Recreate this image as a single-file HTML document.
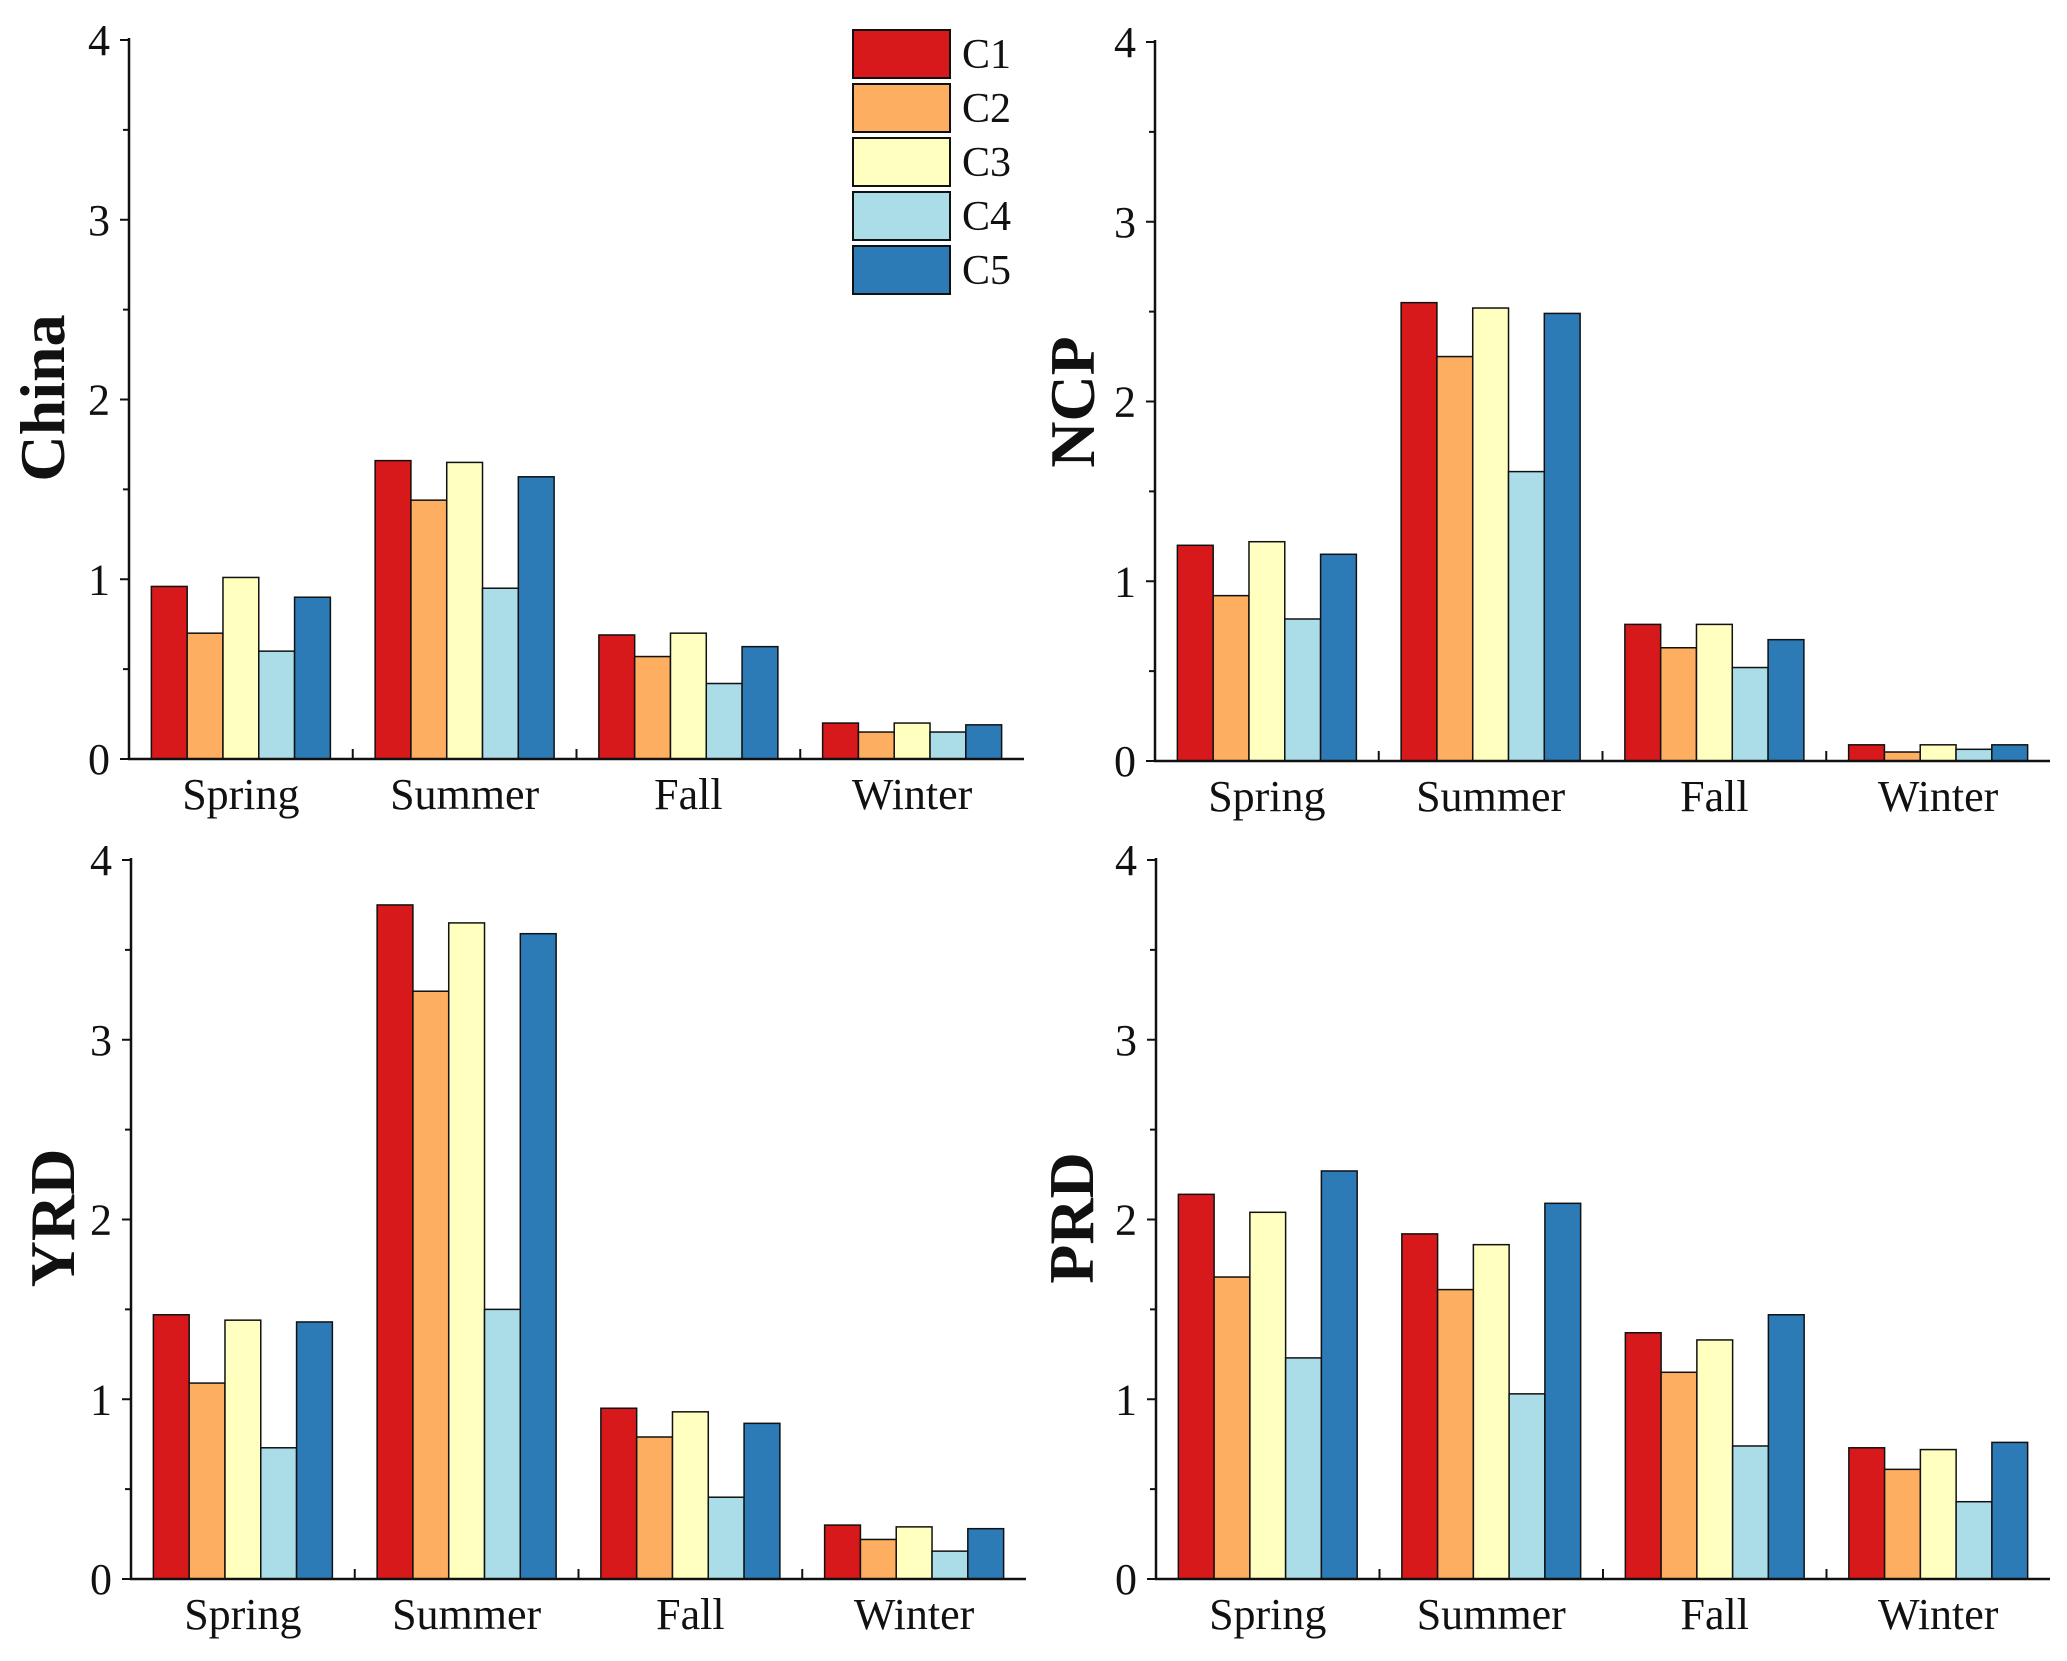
<!DOCTYPE html>
<html><head><meta charset="utf-8"><style>
html,body{margin:0;padding:0;background:#fff}
svg{display:block}
text{font-family:"Liberation Serif",serif;fill:#111}
</style></head><body>
<svg id="chart" width="2067" height="1661" viewBox="0 0 2067 1661" xmlns="http://www.w3.org/2000/svg"></svg>
<script>
const categories = ["Spring","Summer","Fall","Winter"];
const seriesNames = ["C1","C2","C3","C4","C5"];
const colors = ["#d7191c","#fdae61","#ffffbf","#abdde9","#2c7bb6"];
const yTicks = [0,1,2,3,4];
const panelNames = ["China","NCP","YRD","PRD"];
const chinaValues = [[0.96,0.70,1.01,0.60,0.90],[1.66,1.44,1.65,0.95,1.57],[0.69,0.57,0.70,0.42,0.625],[0.20,0.15,0.20,0.15,0.19]];
const ncpValues = [[1.20,0.92,1.22,0.79,1.15],[2.55,2.25,2.52,1.61,2.49],[0.76,0.63,0.76,0.52,0.675],[0.09,0.05,0.09,0.065,0.09]];
const yrdValues = [[1.47,1.09,1.44,0.73,1.43],[3.75,3.27,3.65,1.50,3.59],[0.95,0.79,0.93,0.455,0.866],[0.30,0.22,0.29,0.155,0.28]];
const prdValues = [[2.14,1.68,2.04,1.23,2.27],[1.92,1.61,1.86,1.03,2.09],[1.37,1.15,1.33,0.74,1.47],[0.73,0.61,0.72,0.43,0.76]];
const allValues = [chinaValues,ncpValues,yrdValues,prdValues];

const NS="http://www.w3.org/2000/svg";
const svg=document.getElementById('chart');
function mk(tag,attrs,parent){const e=document.createElementNS(NS,tag);for(const k in attrs)e.setAttribute(k,attrs[k]);(parent||svg).appendChild(e);return e;}

const layout=[{x0:129,x1:1024,y0:759,y4:40},{x0:1155,x1:2050,y0:761,y4:42},{x0:131,x1:1026,y0:1579,y4:860},{x0:1156,x1:2050,y0:1579,y4:860}];
const titlePos=[[42,398],[1072,402],[52,1218],[1071,1218]];

layout.forEach((L,p)=>{
  const g=mk('g',{});
  
  
  const yScale=v=>L.y0-(L.y0-L.y4)*v/4;
  const gw=(L.x1-L.x0)/4;
  const bw=gw*0.8/5;
  for(let i=1;i<4;i++){
    mk('line',{x1:L.x0+gw*i,x2:L.x0+gw*i,y1:L.y0,y2:L.y0-10,stroke:'#111','stroke-width':2},g);
  }
  categories.forEach((c,i)=>{
    const cx=L.x0+gw*(i+0.5);
    mk('line',{x1:cx,x2:cx,y1:L.y0,y2:L.y0-10,stroke:'#111','stroke-width':2},g);
    const vals=allValues[p][i];
    vals.forEach((v,s)=>{
      const bx=cx-gw*0.4+bw*s;
      const r=mk('rect',{x:bx,y:yScale(v),width:bw,height:L.y0-yScale(v),fill:colors[s],stroke:'#111','stroke-width':1.5},g);
      
      
    });
    const t=mk('text',{x:cx,y:L.y0+50,'font-size':44,'text-anchor':'middle'},g);
    t.textContent=c;
    
    
  });
  mk('line',{x1:L.x0,x2:L.x0,y1:L.y4-2,y2:L.y0+1,stroke:'#111','stroke-width':2.5},g);
  mk('line',{x1:L.x0-1,x2:L.x1,y1:L.y0,y2:L.y0,stroke:'#111','stroke-width':2.5},g);
  yTicks.forEach(v=>{
    const y=yScale(v);
    mk('line',{x1:L.x0-9,x2:L.x0,y1:y,y2:y,stroke:'#111','stroke-width':2},g);
    if(v<4) mk('line',{x1:L.x0-6,x2:L.x0,y1:yScale(v+0.5),y2:yScale(v+0.5),stroke:'#111','stroke-width':2},g);
    const t=mk('text',{x:L.x0-19,y:y+15,'font-size':44,'text-anchor':'end'},g);
    t.textContent=v;
    
    
  });
  const [tx,ty]=titlePos[p];
  const tt=mk('text',{x:tx,y:ty,'font-size':64,'font-weight':'bold','text-anchor':'middle',transform:`rotate(-90 ${tx} ${ty})`,dy:22},g);
  tt.textContent=panelNames[p];
  
  
});

const lg=mk('g',{});


seriesNames.forEach((n,i)=>{
  const y=30+i*54;
  const r=mk('rect',{x:853,y:y,width:97,height:48,fill:colors[i],stroke:'#111','stroke-width':2},lg);
  
  
  const t=mk('text',{x:962,y:y+38,'font-size':42},lg);
  t.textContent=n;
  
  
});
</script>
</body></html>
